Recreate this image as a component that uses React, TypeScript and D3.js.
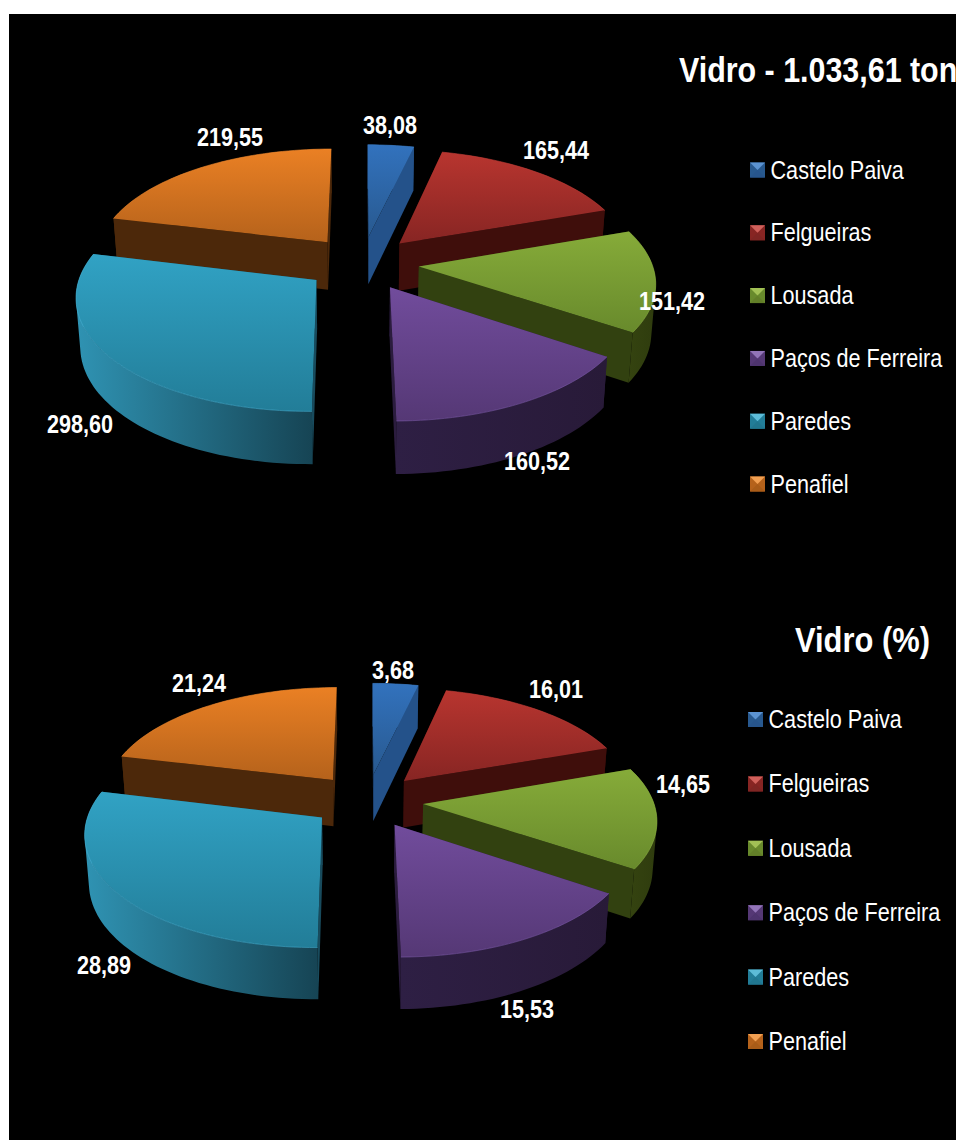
import React from "react";
import * as d3 from "d3";

const categories = ["Castelo Paiva", "Felgueiras", "Lousada", "Paços de Ferreira", "Paredes", "Penafiel"];
const vidroTon = [38.08, 165.44, 151.42, 160.52, 298.6, 219.55];
const vidroPct = [3.68, 16.01, 14.65, 15.53, 28.89, 21.24];
const tonLabels = ["38,08", "165,44", "151,42", "160,52", "298,60", "219,55"];
const pctLabels = ["3,68", "16,01", "14,65", "15,53", "28,89", "21,24"];

const topLight = ["#3272bd", "#b8352f", "#86ab39", "#714c9c", "#31a2c4", "#ea8024"];
const topDark = ["#28598f", "#872523", "#688a2c", "#553875", "#227d98", "#b5621b"];
const wallA = ["#2c62a2", "#440f0c", "#354410", "#2e1f44", "#2f93b3", "#4f2a0b"];
const wallB = ["#1e4470", "#3a0c0a", "#2f3c0e", "#281a38", "#164454", "#48260a"];
const wallSide = ["#24528a", "#3f0e0b", "#324110", "#2b1c3e", "#184b5d", "#4c280a"];
const rim = ["#3a7ac2", "#c03e38", "#90b542", "#7a58a6", "#45aed0", "#ee882e"];
const markerHi = ["#5b93d2", "#d0605b", "#a2c155", "#9274b8", "#5dbcd8", "#f2a052"];
const markerLo = ["#27558c", "#7f2523", "#627f28", "#4e346e", "#20768f", "#a95c18"];

const paintOrder = [0, 5, 1, 2, 4, 3];
const explode = 0.245;

const charts = [
  {
    id: "a", values: vidroTon, labels: tonLabels, title: "Vidro - 1.033,61 ton", titleX: 679, titleY: 82, titleScale: 0.845,
    cx: 362, cy: 263, a: 233, b: 110, k: 0.1265, h: 48,
    labelPos: [[390, 125], [556, 150], [672, 301], [537, 461], [80, 424], [230, 137]],
    legendX: 750, legendY0: 170, legendStep: 62.8,
  },
  {
    id: "b", values: vidroPct, labels: pctLabels, title: "Vidro (%)", titleX: 795, titleY: 652, titleScale: 0.858,
    cx: 367, cy: 800.5, a: 230, b: 109, k: 0.1265, h: 47,
    labelPos: [[393, 670], [556, 689], [683, 784], [527, 1009], [104, 965], [199, 683]],
    legendX: 748, legendY0: 719.5, legendStep: 64.4,
  },
];

const FONT = "'Liberation Sans', Arial, sans-serif";
const NARROW = 0.865;

function Narrow({ x, y, size, weight, children, anchor, sx }: any) {
  return (
    <text
      transform={`translate(${x},${y}) scale(${sx || NARROW},1)`}
      fontFamily={FONT}
      fontSize={size}
      fontWeight={weight}
      textAnchor={anchor || "start"}
      fill="#ffffff"
    >
      {children}
    </text>
  );
}

const line = d3.line<[number, number]>().x((d) => d[0]).y((d) => d[1]);

function Pie3D({ c }: any) {
  const arcs = d3.pie<number>().sort(null).value((d) => d)(c.values);
  const project = (X: number, Y: number): [number, number] => {
    const s = 1 / (1 - c.k * Y);
    return [c.cx + c.a * X * s, c.cy + c.b * Y * s];
  };
  const scaleAt = (Y: number) => 1 / (1 - c.k * Y);
  const slices = paintOrder.map((i) => {
    const d = arcs[i];
    const mid = (d.startAngle + d.endAngle) / 2;
    const ox = explode * Math.sin(mid);
    const oy = -explode * Math.cos(mid);
    const n = Math.max(6, Math.round((d.endAngle - d.startAngle) / 0.03));
    const angs = d3.range(n + 1).map((j) => d.startAngle + ((d.endAngle - d.startAngle) * j) / n);
    const disc = angs.map((t) => [ox + Math.sin(t), oy - Math.cos(t)] as [number, number]);
    const top = ([X, Y]: [number, number]) => project(X, Y);
    const low = ([X, Y]: [number, number]): [number, number] => {
      const [x, y] = project(X, Y);
      return [c.cx + (x - c.cx) * 0.985, y + c.h * Math.pow(scaleAt(Y), 0.6)];
    };
    const apex: [number, number] = [ox, oy];
    const edge = disc.map(top);
    // Every strip of a wall becomes a quad of one winding, so the fold at the
    // silhouette fills as a union and leaves no notch.
    const wallOf = (pts: [number, number][]) =>
      d3.pairs(pts).map(([p, q]) => {
        const quad: [number, number][] = [top(p), top(q), low(q), low(p)];
        return (line(d3.polygonArea(quad) < 0 ? quad.reverse() : quad) as string) + "Z";
      }).join("");
    const walls = [
      { key: "s", pts: [apex, disc[0]], side: true },
      { key: "e", pts: [apex, disc[n]], side: true },
      { key: "o", pts: disc, side: false },
    ]
      .map((w) => ({ ...w, d: wallOf(w.pts as [number, number][]), my: d3.mean(w.pts as [number, number][], (p) => p[1]) as number }))
      .sort((p, q) => p.my - q.my);
    return { i, walls, topPath: line([top(apex), ...edge]) + "Z", rimPath: line(edge) as string };
  });
  return (
    <g>
      <defs>
        {categories.map((_, i) => (
          <React.Fragment key={i}>
            <linearGradient id={`${c.id}t${i}`} x1="0" y1="0" x2="0" y2="1">
              <stop offset="0" stopColor={topLight[i]} />
              <stop offset="1" stopColor={topDark[i]} />
            </linearGradient>
            <linearGradient id={`${c.id}w${i}`} x1="0" y1="0" x2="1" y2="0">
              <stop offset="0" stopColor={wallA[i]} />
              <stop offset="1" stopColor={wallB[i]} />
            </linearGradient>
          </React.Fragment>
        ))}
      </defs>
      {slices.map((s) => (
        <g key={s.i}>
          {s.walls.map((w) => (
            <path key={w.key} d={w.d} fill={w.side ? wallSide[s.i] : `url(#${c.id}w${s.i})`} />
          ))}
          <path d={s.topPath} fill={`url(#${c.id}t${s.i})`} />
          <path d={s.rimPath} fill="none" stroke={rim[s.i]} strokeWidth={1} opacity={0.6} />
        </g>
      ))}
      {c.labels.map((t: string, i: number) => (
        <Narrow key={t} x={c.labelPos[i][0]} y={c.labelPos[i][1] + 9} size={25} weight="bold" anchor="middle">
          {t}
        </Narrow>
      ))}
    </g>
  );
}

function Marker({ x, y, i }: any) {
  const sz = 15;
  const x0 = x, x1 = x + sz, y0 = y - sz / 2, y1 = y + sz / 2;
  const mx = x + sz / 2, my = y;
  const tri = (p: [number, number][]) => line(p) + "Z";
  return (
    <g>
      <rect x={x0} y={y0} width={sz} height={sz} fill={topDark[i]} />
      <path d={tri([[x0, y0], [x1, y0], [mx, my]])} fill={markerHi[i]} />
      <path d={tri([[x0, y1], [x1, y1], [mx, my]])} fill={markerLo[i]} />
    </g>
  );
}

function Legend({ c }: any) {
  const y = d3.scaleLinear().domain([0, 1]).range([c.legendY0, c.legendY0 + c.legendStep]);
  return (
    <g>
      {categories.map((name, i) => (
        <g key={name}>
          <Marker x={c.legendX} y={y(i)} i={i} />
          <Narrow x={c.legendX + 20.5} y={y(i) + 8.5} size={25}>
            {name}
          </Narrow>
        </g>
      ))}
    </g>
  );
}

export default function App() {
  return (
    <svg
      width={956}
      height={1140}
      viewBox="0 0 956 1140"
      style={{ position: "absolute", left: 0, top: 0, display: "block", background: "#fff" }}
    >
      <rect x={9} y={14} width={947} height={1126} fill="#000" />
      {charts.map((c) => (
        <g key={c.id}>
          <Pie3D c={c} />
          <Legend c={c} />
          <Narrow x={c.titleX} y={c.titleY} size={36} weight="bold" sx={c.titleScale}>
            {c.title}
          </Narrow>
        </g>
      ))}
    </svg>
  );
}
